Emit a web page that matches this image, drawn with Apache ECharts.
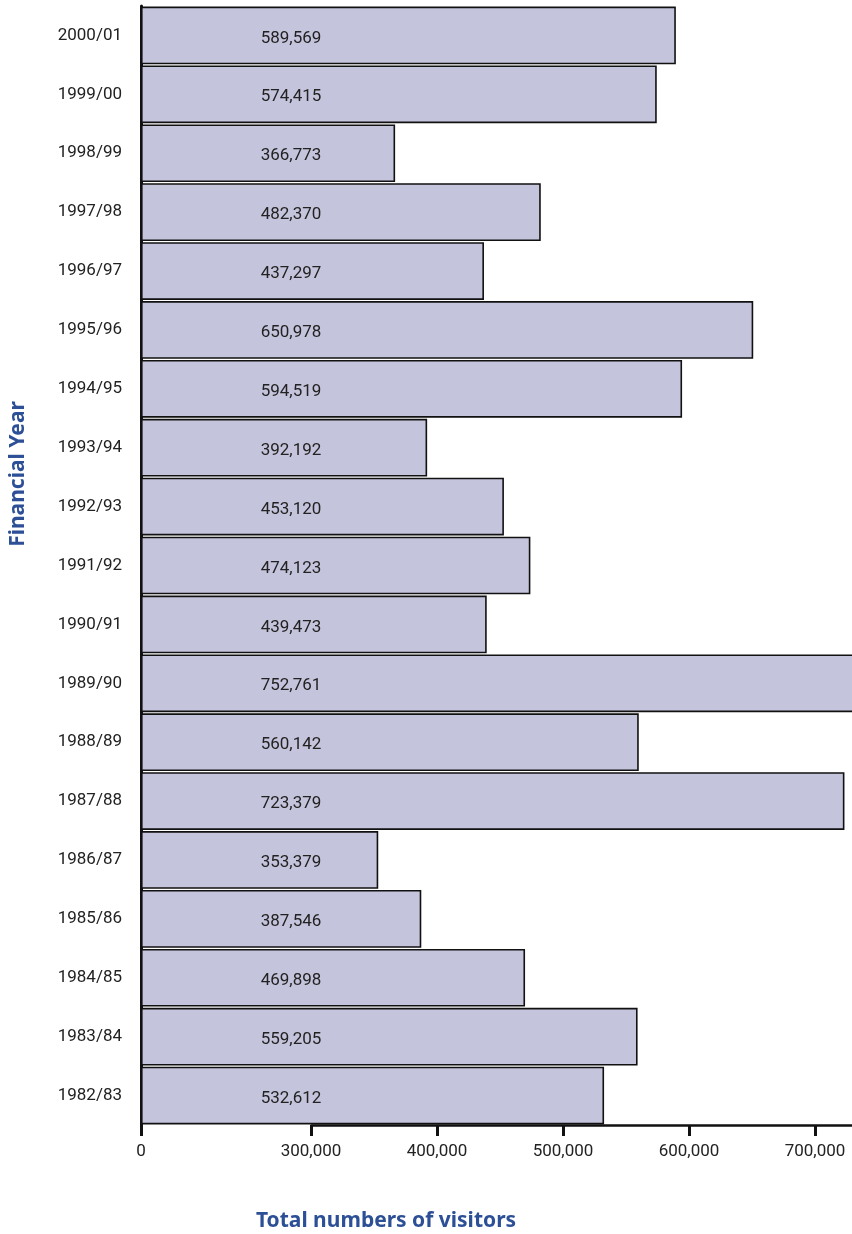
<!DOCTYPE html>
<html>
<head>
<meta charset="utf-8">
<script src="https://cdn.jsdelivr.net/npm/echarts@6.0.0/dist/echarts.min.js"></script>
<style>
html,body{margin:0;padding:0;background:#fff;}
#chart{width:852px;height:1234px;}
</style>
</head>
<body>
<div id="chart"></div>
<script>
// Financial years, bottom to top
const categories = ['1982/83','1983/84','1984/85','1985/86','1986/87','1987/88','1988/89','1989/90','1990/91','1991/92','1992/93','1993/94','1994/95','1995/96','1996/97','1997/98','1998/99','1999/00','2000/01'];
const visitors = [532612,559205,469898,387546,353379,723379,560142,752761,439473,474123,453120,392192,594519,650978,437297,482370,366773,574415,589569];
const xTickValues = [0,300000,400000,500000,600000,700000];
const xTitle = 'Total numbers of visitors';
const yTitle = 'Financial Year';

const chart = echarts.init(document.getElementById('chart'));
const fmt = v => v.toLocaleString('en-US');
chart.setOption({
  animation: false,
  grid: {left: 141, right: -89, top: 6, bottom: 109, containLabel: false, outerBoundsMode: 'none'},
  xAxis: {
    type: 'value',
    min: 0, max: 800000, interval: 100000,
    breaks: [{start: 0, end: 300000, gap: 134900}],
    breakArea: {show: false},
    axisLine: {show: true, lineStyle: {color: '#111', width: 2.5}},
    axisTick: {show: true, length: 11, lineStyle: {color: '#111', width: 3}},
    splitLine: {show: false},
    axisLabel: {
      color: '#222', fontSize: 17, fontFamily: 'Roboto', margin: 18,
      formatter: v => xTickValues.indexOf(v) >= 0 ? fmt(v) : ''
    }
  },
  yAxis: {
    type: 'category',
    data: categories,
    axisLine: {show: true, lineStyle: {color: '#111', width: 3}},
    axisTick: {show: false},
    axisLabel: {color: '#222', fontSize: 17, fontFamily: 'Roboto', margin: 19}
  },
  graphic: [
    {type: 'text', x: 386, y: 1221, style: {text: xTitle, fill: '#2c4f96', font: 'bold 21px "Noto Sans"', align: 'center', verticalAlign: 'middle'}},
    {type: 'text', x: 18, y: 474, rotation: Math.PI / 2, style: {text: yTitle, fill: '#2c4f96', font: 'bold 21px "Noto Sans"', align: 'center', verticalAlign: 'middle'}}
  ],
  series: [{
    type: 'bar',
    data: visitors,
    barCategoryGap: '2%',
    itemStyle: {color: '#c4c4dc', borderColor: '#111', borderWidth: 1.6},
    label: {
      show: true, position: [150, '55%'], align: 'center', verticalAlign: 'middle',
      color: '#222', fontSize: 17, fontFamily: 'Roboto',
      formatter: p => fmt(p.value)
    }
  }]
});
</script>
</body>
</html>
